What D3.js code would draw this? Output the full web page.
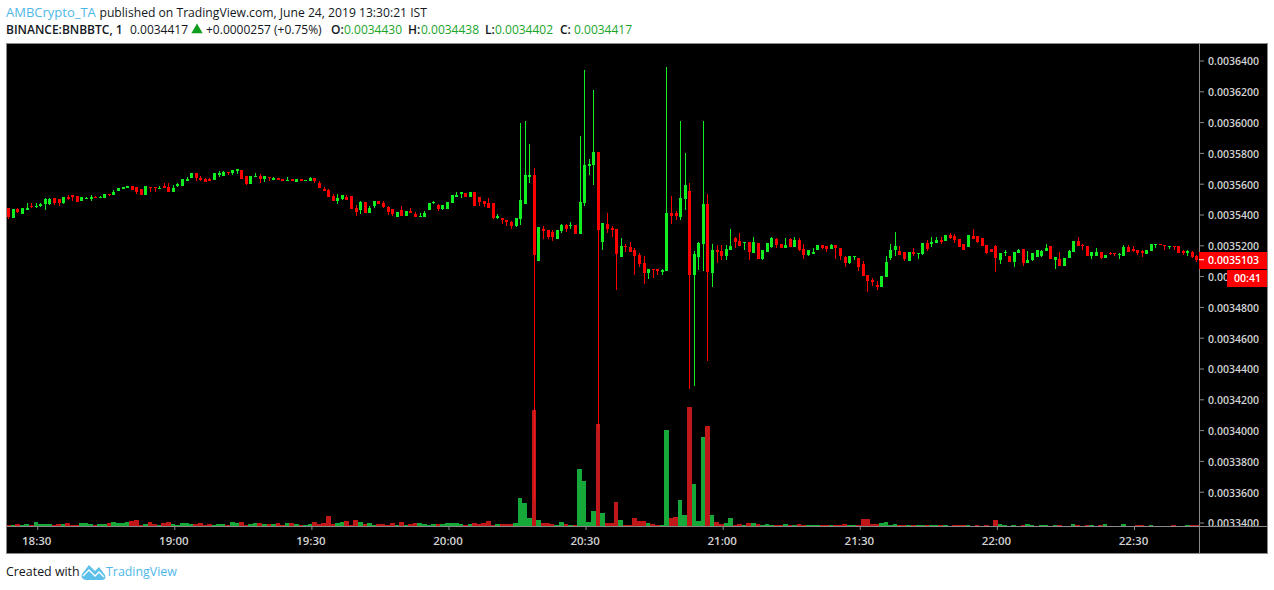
<!DOCTYPE html>
<html>
<head>
<meta charset="utf-8">
<script src="https://cdnjs.cloudflare.com/ajax/libs/d3/7.8.5/d3.min.js"></script>
<style>
  html, body { margin: 0; padding: 0; background: #fff; }
  svg { display: block; }
  text { font-family: "Open Sans", sans-serif; }
</style>
</head>
<body>
<script>
// prices are in units of 0.0000001 BTC, one entry per minute from 18:24
const opens = [
  35440,35375,35434,35401,35427,35453,35447,35453,35466,35466,
  35505,35499,35473,35512,35525,35518,35486,35499,35499,35512,
  35505,35505,35531,35525,35551,35564,35570,35583,35577,35564,
  35525,35577,35577,35564,35583,35577,35544,35583,35583,35616,
  35635,35668,35635,35629,35629,35622,35655,35648,35674,35668,
  35681,35687,35648,35596,35642,35648,35629,35642,35622,35635,
  35629,35616,35629,35609,35629,35616,35616,35635,35603,35564,
  35557,35518,35486,35499,35512,35518,35440,35427,35479,35408,
  35453,35486,35473,35447,35434,35382,35427,35388,35421,35401,
  35382,35382,35427,35473,35460,35434,35434,35473,35512,35531,
  35538,35512,35544,35512,35486,35473,35473,35375,35375,35362,
  35349,35323,35369,35466,35642,35655,35096,35304,35297,35284,
  35239,35291,35330,35323,35330,35271,35473,35713,35720,35804,
  35219,35336,35310,35304,35122,35194,35187,35168,35135,35083,
  35018,35044,35044,35025,35031,35408,35408,35382,35499,35551,
  35005,35122,35206,35466,35018,35168,35161,35129,35168,35245,
  35226,35213,35219,35148,35213,35109,35155,35187,35239,35206,
  35181,35239,35187,35232,35174,35135,35142,35168,35200,35194,
  35174,35200,35181,35122,35083,35122,35116,35077,35005,34973,
  34940,34927,34992,35116,35168,35161,35155,35096,35155,35142,
  35142,35213,35206,35213,35232,35226,35265,35258,35239,35206,
  35187,35258,35258,35245,35200,35174,35194,35103,35148,35129,
  35090,35148,35174,35083,35103,35122,35129,35161,35194,35103,
  35109,35064,35116,35155,35226,35200,35194,35129,35129,35155,
  35116,35148,35148,35135,35129,35187,35174,35168,35161,35142,
  35161,35200,35206,35200,35187,35194,35194,35161,35148,35155,35129
];
const highs = [
  35440,35434,35440,35440,35473,35473,35473,35473,35505,35505,
  35505,35499,35512,35525,35525,35518,35512,35512,35525,35518,
  35518,35531,35531,35557,35570,35577,35583,35583,35577,35564,
  35583,35577,35577,35583,35603,35603,35590,35603,35629,35642,
  35668,35668,35648,35635,35635,35668,35681,35681,35674,35687,
  35694,35687,35648,35648,35668,35661,35648,35642,35642,35635,
  35629,35642,35629,35629,35629,35622,35642,35635,35616,35577,
  35564,35531,35531,35525,35525,35518,35460,35486,35479,35453,
  35486,35486,35486,35453,35434,35414,35453,35421,35440,35414,
  35408,35421,35473,35486,35466,35460,35479,35525,35544,35544,
  35538,35544,35544,35512,35486,35505,35473,35401,35375,35362,
  35356,35375,35992,36005,35856,35700,35317,35323,35297,35297,
  35297,35336,35336,35349,35330,35908,36336,35758,36207,35804,
  35343,35408,35323,35304,35245,35206,35219,35181,35148,35129,
  35044,35044,35044,35044,36356,35518,35421,36005,35797,35603,
  35161,35219,36005,35531,35206,35200,35200,35200,35304,35252,
  35278,35219,35219,35252,35213,35168,35213,35252,35245,35206,
  35245,35245,35252,35245,35206,35168,35181,35200,35200,35194,
  35206,35200,35181,35129,35129,35129,35116,35096,35005,34986,
  34966,34999,35129,35206,35284,35194,35155,35155,35181,35148,
  35213,35232,35252,35252,35252,35265,35278,35271,35239,35206,
  35265,35304,35258,35245,35200,35174,35200,35148,35168,35129,
  35155,35174,35174,35161,35148,35168,35168,35206,35194,35122,
  35155,35116,35168,35226,35252,35206,35194,35155,35181,35155,
  35135,35155,35148,35148,35200,35200,35194,35168,35168,35168,
  35206,35206,35206,35200,35194,35194,35194,35168,35168,35161,35135
];
const lows = [
  35369,35375,35408,35401,35427,35440,35440,35447,35427,35460,
  35460,35453,35466,35492,35486,35479,35486,35499,35486,35505,
  35505,35505,35518,35525,35551,35564,35570,35557,35531,35525,
  35525,35544,35544,35564,35570,35544,35544,35577,35583,35616,
  35635,35616,35616,35609,35616,35622,35642,35648,35655,35655,
  35661,35629,35590,35596,35642,35603,35609,35616,35622,35622,
  35616,35616,35616,35609,35616,35616,35616,35603,35570,35551,
  35512,35486,35466,35492,35492,35434,35388,35401,35408,35408,
  35440,35466,35440,35395,35388,35382,35388,35388,35408,35382,
  35382,35382,35427,35466,35421,35427,35434,35473,35512,35505,
  35512,35512,35453,35453,35447,35440,35369,35369,35336,35323,
  35304,35317,35330,35466,35603,33538,35096,35239,35239,35226,
  35239,35278,35284,35304,35271,35271,35453,35655,35590,34005,
  35168,35278,35252,34908,35122,35155,35155,35005,35057,34947,
  34979,34986,35005,35005,35031,35336,35362,35362,35427,34265,
  34284,35038,35031,34447,34927,35083,35103,35103,35168,35181,
  35194,35168,35103,35148,35109,35103,35155,35181,35181,35181,
  35181,35187,35187,35161,35109,35129,35142,35168,35174,35155,
  35174,35109,35103,35057,35077,35103,35031,34999,34895,34934,
  34908,34927,34992,35103,35129,35135,35096,35096,35129,35109,
  35135,35161,35187,35213,35206,35226,35239,35213,35187,35168,
  35187,35239,35213,35194,35142,35155,35025,35077,35129,35090,
  35057,35148,35064,35083,35096,35122,35122,35161,35109,35044,
  35064,35064,35116,35155,35194,35168,35129,35109,35129,35109,
  35116,35135,35129,35109,35129,35155,35155,35135,35122,35142,
  35161,35181,35200,35168,35174,35168,35148,35135,35129,35116,35090
];
const closes = [
  35382,35434,35414,35440,35440,35447,35453,35466,35499,35499,
  35473,35473,35512,35499,35512,35479,35512,35505,35512,35505,
  35512,35531,35525,35544,35570,35577,35583,35557,35544,35525,
  35583,35570,35570,35570,35570,35544,35570,35596,35629,35629,
  35668,35635,35622,35609,35616,35668,35668,35674,35668,35687,
  35694,35629,35596,35648,35648,35629,35648,35635,35635,35622,
  35616,35622,35616,35629,35616,35622,35635,35616,35570,35551,
  35512,35486,35505,35525,35492,35434,35414,35479,35408,35440,
  35486,35466,35447,35414,35401,35414,35388,35421,35408,35382,
  35388,35408,35473,35479,35434,35460,35479,35525,35525,35544,
  35512,35544,35453,35479,35466,35440,35375,35388,35362,35349,
  35323,35375,35492,35655,35655,35135,35317,35291,35252,35252,
  35297,35330,35304,35330,35271,35479,35720,35726,35804,35297,
  35343,35304,35297,35142,35194,35187,35155,35129,35077,35018,
  35044,35038,35031,35038,35408,35388,35388,35505,35590,35005,
  35142,35213,35466,35025,35168,35155,35129,35174,35194,35219,
  35194,35219,35155,35219,35109,35168,35213,35245,35200,35181,
  35200,35187,35232,35168,35135,35168,35155,35200,35181,35174,
  35200,35181,35129,35083,35129,35129,35057,34999,34966,34960,
  34927,34999,35090,35168,35194,35135,35109,35155,35142,35148,
  35213,35174,35219,35232,35219,35265,35245,35232,35187,35168,
  35265,35239,35219,35194,35148,35155,35116,35148,35155,35090,
  35155,35168,35083,35103,35148,35168,35161,35181,35109,35122,
  35064,35116,35161,35226,35194,35194,35129,35155,35155,35116,
  35135,35142,35142,35142,35187,35155,35161,35148,35148,35168,
  35206,35206,35200,35194,35194,35187,35148,35148,35161,35122,35103
];
const volumes = [
  100,100,200,100,200,100,400,200,200,200,
  100,200,200,300,100,100,300,300,200,100,
  200,200,300,400,300,300,400,500,600,100,
  200,400,200,100,300,400,200,100,300,300,
  200,200,300,100,200,100,200,200,100,400,
  300,400,100,200,300,300,200,200,200,300,
  100,300,300,200,100,100,200,400,200,300,
  1000,200,300,400,500,100,600,400,200,300,
  100,200,200,100,300,100,400,100,200,300,
  300,200,100,200,200,200,300,300,300,200,
  100,200,300,200,300,500,100,200,200,200,
  200,300,2800,2300,800,11600,600,300,300,200,
  100,400,200,100,100,5700,4500,400,1500,10200,
  1300,300,300,2400,600,100,100,800,500,500,
  300,200,100,100,9600,800,900,2600,1100,11900,
  4200,500,8900,10000,1100,400,200,300,800,100,
  200,100,300,300,200,100,200,100,100,100,
  200,100,100,200,100,100,100,100,100,100,
  100,100,100,200,100,100,100,700,700,200,
  200,300,400,100,200,100,100,100,100,100,
  100,100,100,100,100,100,30,100,100,100,
  100,30,100,30,100,30,600,200,100,30,
  100,30,100,200,100,30,100,100,30,100,
  100,30,30,200,100,30,100,100,30,100,
  200,30,30,30,200,30,30,100,100,30,
  100,30,30,30,30,100,30,30,100,100,100
];
const priceTicks = [36400,36200,36000,35800,35600,35400,35200,35000,34800,34600,34400,34200,34000,33800,33600,33400];
const timeTicks = ["18:30","19:00","19:30","20:00","20:30","21:00","21:30","22:00","22:30"];
const lastPrice = 35103;

const width = 1274, height = 590;
const green = '#11ee22', red = '#ff0000', axisGray = '#8a8a8a', labelGray = '#d2d2d2', blue = '#4db8e8';

const parseTime = d3.timeParse('%H:%M');
const fmtTime = d3.timeFormat('%H:%M');
const fmtPrice = d => (d / 1e7).toFixed(7);

const start = d3.timeMinute.offset(parseTime('18:30'), -6);
const times = closes.map((d, i) => d3.timeMinute.offset(start, i));

const x = d3.scaleTime()
  .domain([parseTime('18:30'), parseTime('22:30')])
  .range([37.2, 1134]);
const y = d3.scaleLinear()
  .domain([33400, 36400])
  .range([522.5, 60.5]);
const yVol = d3.scaleLinear()
  .domain([0, 11900])
  .range([526, 407]);

const svg = d3.select('body')
  .append('svg')
  .attr('width', width)
  .attr('height', height);

const defs = svg.append('defs');
defs.append('clipPath').attr('id', 'plot')
  .append('rect').attr('x', 7).attr('y', 44).attr('width', 1192).attr('height', 482);
// used inside the price axis group, so x starts from that group's origin
defs.append('clipPath').attr('id', 'scale')
  .append('rect').attr('x', 0).attr('y', 44).attr('width', 68).attr('height', 482);

svg.append('rect')
  .attr('x', 6.5).attr('y', 43.5)
  .attr('width', 1261).attr('height', 510)
  .attr('fill', '#000')
  .attr('stroke', axisGray);

const plot = svg.append('g')
  .attr('clip-path', 'url(#plot)')
  .attr('shape-rendering', 'crispEdges');

const color = i => closes[i] >= opens[i] ? green : red;
const center = i => Math.floor(x(times[i])) - 1;

// wicks
plot.selectAll('.wick')
  .data(closes)
  .enter()
  .append('rect')
  .attr('class', 'wick')
  .attr('x', (d, i) => center(i))
  .attr('y', (d, i) => Math.round(y(highs[i])))
  .attr('width', 1)
  .attr('height', (d, i) => Math.max(1, Math.round(y(lows[i])) - Math.round(y(highs[i]))))
  .attr('fill', (d, i) => color(i));

// bodies
plot.selectAll('.body')
  .data(closes)
  .enter()
  .append('rect')
  .attr('class', 'body')
  .attr('x', (d, i) => center(i) - 1)
  .attr('y', (d, i) => Math.round(y(Math.max(opens[i], d))))
  .attr('width', 3)
  .attr('height', (d, i) => Math.max(1, Math.round(y(Math.min(opens[i], d))) - Math.round(y(Math.max(opens[i], d)))))
  .attr('fill', (d, i) => color(i));

// volume sits on top, see-through so the long wicks show in it
plot.selectAll('.vol')
  .data(volumes)
  .enter()
  .append('rect')
  .attr('class', 'vol')
  .attr('x', (d, i) => Math.floor(x(times[i]) - 3.2))
  .attr('y', d => yVol(d))
  .attr('width', (d, i) => Math.floor(x(times[i]) + 1.37) - Math.floor(x(times[i]) - 3.2))
  .attr('height', d => yVol(0) - yVol(d))
  .attr('fill', (d, i) => closes[i] >= opens[i] ? '#1dd248' : '#f01e1e')
  .attr('fill-opacity', 0.8);

// axes
const priceAxis = svg.append('g')
  .attr('clip-path', 'url(#scale)')
  .attr('transform', 'translate(1199,0)')
  .call(d3.axisRight(y).tickValues(priceTicks).tickFormat(fmtPrice).tickSize(5).tickPadding(4));
priceAxis.select('.domain').remove();
priceAxis.selectAll('line').attr('stroke', axisGray);
priceAxis.selectAll('text')
  .attr('y', 0)
  .attr('dy', '0.42em')
  .attr('fill', labelGray)
  .style('font-size', '10.5px')
  .style('font-weight', 600);

const timeAxis = svg.append('g')
  .attr('transform', 'translate(0,526)')
  .call(d3.axisBottom(x).tickValues(timeTicks.map(parseTime)).tickFormat(fmtTime).tickSize(4).tickPadding(7));
timeAxis.select('.domain').remove();
timeAxis.selectAll('line').attr('stroke', axisGray);
timeAxis.selectAll('text')
  .attr('fill', labelGray)
  .attr('dx', -1)
  .style('font-size', '11.5px')
  .style('font-weight', 600);

svg.append('line')
  .attr('x1', 7).attr('x2', 1267).attr('y1', 526.5).attr('y2', 526.5)
  .attr('stroke', axisGray);
svg.append('line')
  .attr('x1', 1199.5).attr('x2', 1199.5).attr('y1', 44).attr('y2', 553)
  .attr('stroke', axisGray);

// last price and countdown tags
svg.append('rect')
  .attr('x', 1199).attr('y', 252).attr('width', 68).attr('height', 17)
  .attr('fill', red);
svg.append('line')
  .attr('x1', 1199).attr('x2', 1204).attr('y1', y(lastPrice) - 0.5).attr('y2', y(lastPrice) - 0.5)
  .attr('stroke', '#fff');
svg.append('text')
  .attr('x', 1208).attr('y', 264)
  .attr('fill', '#fff')
  .style('font-size', '10.5px').style('font-weight', 600)
  .text(fmtPrice(lastPrice));
svg.append('rect')
  .attr('x', 1227).attr('y', 270).attr('width', 40).attr('height', 17)
  .attr('fill', red);
svg.append('text')
  .attr('x', 1234).attr('y', 282)
  .attr('fill', '#fff')
  .style('font-size', '10.5px').style('font-weight', 600)
  .text('00:41');

// header
const textAt = (px, py, txt, col, weight, size) => svg.append('text')
  .attr('x', px).attr('y', py)
  .attr('fill', col)
  .style('font-size', (size || 12) + 'px')
  .style('font-weight', weight || 400)
  .text(txt);

textAt(6, 17, 'AMBCrypto_TA', blue, 400, 13);
textAt(99.5, 17, 'published on TradingView.com, June 24, 2019 13:30:21 IST', '#131722', 400, 12.15);
textAt(6, 34, 'BINANCE:BNBBTC, 1', '#131722', 600);
textAt(130, 34, '0.0034417', '#131722');
svg.append('path')
  .attr('d', d3.symbol(d3.symbolTriangle, 55)())
  .attr('transform', 'translate(197,30)')
  .attr('fill', '#0f9d1e');
textAt(206, 34, '+0.0000257 (+0.75%)', '#131722');
[['O:', 331, '0.0034430', 344], ['H:', 408, '0.0034438', 421], ['L:', 485, '0.0034402', 495], ['C:', 560, '0.0034417', 574]]
  .forEach(d => {
    textAt(d[1], 34, d[0], '#131722', 600);
    textAt(d[3], 34, d[2], '#1aa52a');
  });

// footer
textAt(6, 576, 'Created with', '#131722', 400, 12.4);
svg.append('path')
  .attr('d', 'M82 574 L89 565 L95 571 L99 567 L105 575 Q107 580 101 580 L86 580 Q80 579 82 574 Z')
  .attr('fill', '#5cc0ea');
svg.append('path')
  .attr('d', 'M83 576 L89 570 L95 576 L99 572 L104 577')
  .attr('fill', 'none')
  .attr('stroke', '#fff')
  .attr('stroke-width', 1.3);
textAt(106, 576, 'TradingView', blue, 400, 12.4);
</script>
</body>
</html>
